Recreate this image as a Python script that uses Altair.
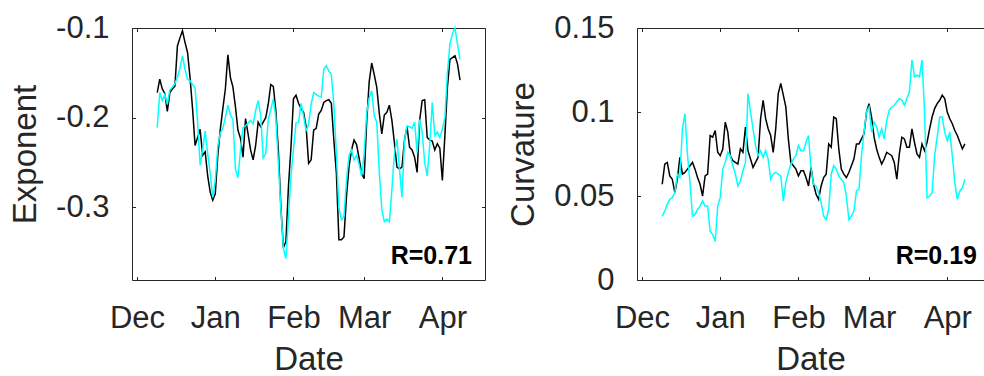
import altair as alt
import pandas as pd

# Daily series, one value per day starting on first_day
first_day = "2018-12-09"

exponent_black = [
    -0.172, -0.157, -0.168, -0.173, -0.193, -0.172, -0.168, -0.165, -0.120, -0.111,
    -0.103, -0.116, -0.127, -0.155, -0.190, -0.231, -0.222, -0.213, -0.242, -0.238,
    -0.265, -0.283, -0.292, -0.285, -0.242, -0.213, -0.190, -0.168, -0.130, -0.155,
    -0.166, -0.188, -0.214, -0.223, -0.244, -0.201, -0.218, -0.236, -0.247, -0.231,
    -0.205, -0.210, -0.205, -0.200, -0.185, -0.163, -0.165, -0.192, -0.236, -0.299,
    -0.345, -0.338, -0.277, -0.233, -0.179, -0.175, -0.184, -0.190, -0.194, -0.210,
    -0.251, -0.247, -0.214, -0.212, -0.196, -0.192, -0.183, -0.181, -0.180, -0.184,
    -0.225, -0.262, -0.336, -0.336, -0.333, -0.288, -0.255, -0.236, -0.225, -0.230,
    -0.245, -0.262, -0.268, -0.205, -0.160, -0.139, -0.152, -0.166, -0.195, -0.218,
    -0.197, -0.194, -0.186, -0.203, -0.228, -0.255, -0.257, -0.255, -0.225, -0.210,
    -0.233, -0.236, -0.244, -0.261, -0.203, -0.181, -0.180, -0.222, -0.225, -0.226,
    -0.236, -0.229, -0.234, -0.270, -0.220, -0.166, -0.135, -0.133, -0.131, -0.140,
    -0.158,
]

exponent_cyan = [
    -0.211, -0.172, -0.181, -0.174, -0.185, -0.169, -0.166, -0.162, -0.155, -0.145,
    -0.131, -0.146, -0.157, -0.159, -0.163, -0.167, -0.205, -0.253, -0.236, -0.215,
    -0.240, -0.262, -0.289, -0.270, -0.232, -0.217, -0.212, -0.200, -0.186, -0.197,
    -0.202, -0.258, -0.267, -0.236, -0.211, -0.209, -0.206, -0.203, -0.207, -0.192,
    -0.181, -0.197, -0.245, -0.240, -0.202, -0.191, -0.179, -0.200, -0.250, -0.302,
    -0.346, -0.357, -0.312, -0.265, -0.235, -0.206, -0.205, -0.184, -0.198, -0.215,
    -0.207, -0.185, -0.172, -0.174, -0.176, -0.177, -0.146, -0.142, -0.148, -0.152,
    -0.185, -0.240, -0.300, -0.314, -0.310, -0.270, -0.242, -0.236, -0.247, -0.242,
    -0.252, -0.265, -0.240, -0.195, -0.178, -0.170, -0.198, -0.205, -0.260, -0.302,
    -0.316, -0.313, -0.316, -0.280, -0.240, -0.224, -0.257, -0.289, -0.225, -0.209,
    -0.210, -0.212, -0.205, -0.239, -0.202, -0.216, -0.250, -0.265, -0.230, -0.183,
    -0.220, -0.216, -0.222, -0.213, -0.200, -0.150, -0.118, -0.106, -0.100, -0.118,
    -0.135,
]

curvature_black = [
    0.057, 0.069, 0.070, 0.062, 0.060, 0.052, 0.060, 0.073, 0.063, 0.064,
    0.066, 0.068, 0.070, 0.066, 0.061, 0.057, 0.050, 0.062, 0.063, 0.086,
    0.085, 0.089, 0.076, 0.074, 0.078, 0.094, 0.088, 0.074, 0.071, 0.070,
    0.069, 0.078, 0.076, 0.091, 0.077, 0.072, 0.067, 0.070, 0.073, 0.096,
    0.107, 0.096, 0.090, 0.086, 0.076, 0.090, 0.111, 0.117, 0.110, 0.103,
    0.084, 0.070, 0.068, 0.066, 0.062, 0.065, 0.065, 0.061, 0.056, 0.067,
    0.057, 0.051, 0.048, 0.056, 0.061, 0.063, 0.081, 0.079, 0.097, 0.096,
    0.078, 0.066, 0.063, 0.061, 0.064, 0.068, 0.072, 0.081, 0.081, 0.084,
    0.087, 0.100, 0.105, 0.097, 0.085, 0.078, 0.073, 0.069, 0.072, 0.076,
    0.075, 0.074, 0.070, 0.060, 0.075, 0.085, 0.084, 0.079, 0.079, 0.090,
    0.082, 0.075, 0.073, 0.081, 0.077, 0.082, 0.090, 0.097, 0.102, 0.105,
    0.107, 0.110, 0.108, 0.100, 0.096, 0.093, 0.089, 0.086, 0.082, 0.078,
    0.081,
]

curvature_cyan = [
    0.038, 0.041, 0.045, 0.048, 0.049, 0.052, 0.063, 0.061, 0.090, 0.099,
    0.075, 0.058, 0.038, 0.039, 0.042, 0.044, 0.047, 0.044, 0.044, 0.029,
    0.027, 0.023, 0.044, 0.049, 0.066, 0.070, 0.076, 0.074, 0.068, 0.063,
    0.056, 0.059, 0.065, 0.070, 0.111, 0.100, 0.090, 0.080, 0.074, 0.077,
    0.073, 0.077, 0.072, 0.060, 0.063, 0.064, 0.063, 0.062, 0.047, 0.058,
    0.064, 0.069, 0.072, 0.074, 0.080, 0.077, 0.077, 0.082, 0.086, 0.066,
    0.057, 0.056, 0.052, 0.046, 0.038, 0.036, 0.042, 0.063, 0.068, 0.066,
    0.062, 0.060, 0.058, 0.050, 0.036, 0.038, 0.041, 0.053, 0.054, 0.074,
    0.088, 0.100, 0.103, 0.088, 0.094, 0.091, 0.085, 0.090, 0.084, 0.095,
    0.101, 0.103, 0.104, 0.106, 0.108, 0.107, 0.104, 0.108, 0.112, 0.131,
    0.121, 0.122, 0.121, 0.131, 0.100, 0.049, 0.050, 0.052, 0.074, 0.085,
    0.097, 0.097, 0.088, 0.083, 0.088, 0.074, 0.058, 0.048, 0.053, 0.055,
    0.060,
]

r_exponent = 0.71
r_curvature = 0.19

month_ticks = [(2018, 12), (2019, 1), (2019, 2), (2019, 3), (2019, 4)]
exponent_ticks = [-0.3, -0.2, -0.1]
curvature_ticks = [0, 0.05, 0.1, 0.15]

AXIS_COLOR = "#262626"
FONT = "Liberation Sans"
TICK_LEN = 3.5
PANEL_H = 252
R_LABEL_X = 340  # right edge of the correlation label, from the panel's left

dates = pd.date_range(first_day, periods=len(exponent_black), freq="D")
tick_dates = [alt.DateTime(year=y, month=m, date=1) for y, m in month_ticks]
x_start = alt.DateTime(year=2018, month=11, date=29)


def label_axis(orient, **kw):
    return alt.Axis(
        orient=orient, grid=False, ticks=False, tickSize=0, domain=True,
        domainColor=AXIS_COLOR, domainWidth=1,
        labelFont=FONT, labelFontSize=31, labelColor=AXIS_COLOR,
        labelFlush=False, labelOverlap=False,
        titleFont=FONT, titleFontSize=33, titleColor=AXIS_COLOR,
        titleFontWeight="normal", **kw,
    )


def frame_axis(orient):
    return alt.Axis(
        orient=orient, grid=False, ticks=False, tickSize=0, labels=False,
        title=None, domain=True, domainColor=AXIS_COLOR, domainWidth=1,
    )


def tick_axis(orient, values):
    # ticks drawn on the inner side of the frame
    return alt.Axis(
        orient=orient, grid=False, values=values, ticks=True,
        tickSize=TICK_LEN, tickColor=AXIS_COLOR, tickWidth=1,
        offset=-TICK_LEN, labels=False, domain=False, title=None,
    )


def panel(black, cyan, y_title, y_domain, y_ticks, y_format, x_end, width,
          r_value, right_frame):
    xs = alt.Scale(domain=[x_start, x_end])
    ys = alt.Scale(domain=y_domain, nice=False, zero=False)
    df_black = pd.DataFrame({"date": dates, "value": black})
    df_cyan = pd.DataFrame({"date": dates, "value": cyan})

    def enc(xa, ya):
        return dict(
            x=alt.X("date:T", scale=xs, axis=xa),
            y=alt.Y("value:Q", scale=ys, axis=ya),
        )

    black_line = alt.Chart(df_black).mark_line(
        color="#000000", strokeWidth=1.5
    ).encode(**enc(
        label_axis("bottom", values=tick_dates, format="%b", title="Date",
                   labelPadding=23, titlePadding=10),
        label_axis("left", values=y_ticks, format=y_format,
                   labelExpr="replace(datum.label, '\u2212', '-')",
                   title=y_title, labelPadding=23, titlePadding=13),
    ))
    cyan_line = alt.Chart(df_cyan).mark_line(
        color="#00FFFF", strokeWidth=1.5
    ).encode(**enc(frame_axis("top"),
                   frame_axis("right") if right_frame else None))
    ticks_a = alt.Chart(df_black).mark_line(strokeOpacity=0).encode(
        **enc(tick_axis("bottom", tick_dates), tick_axis("left", y_ticks)))
    ticks_b = alt.Chart(df_black).mark_line(strokeOpacity=0).encode(
        **enc(tick_axis("top", tick_dates),
              tick_axis("right", y_ticks) if right_frame else None))
    r_label = alt.Chart(
        pd.DataFrame({"label": [f"R={r_value:.2f}"]})
    ).mark_text(
        align="right", baseline="alphabetic", font=FONT, fontSize=25,
        fontWeight="bold", color="#000000",
    ).encode(
        x=alt.value(R_LABEL_X), y=alt.value(PANEL_H - 16), text="label:N"
    )
    return alt.layer(
        black_line, cyan_line, ticks_a, ticks_b, r_label
    ).resolve_axis(x="independent", y="independent").properties(
        width=width, height=PANEL_H
    )


left = panel(
    exponent_black, exponent_cyan, "Exponent", [-0.381, -0.1], exponent_ticks,
    ".1f", alt.DateTime(year=2019, month=4, date=17, hours=21, minutes=36),
    353, r_exponent, True,
)
right = panel(
    curvature_black, curvature_cyan, "Curvature", [0, 0.15], curvature_ticks,
    ".2~g", alt.DateTime(year=2019, month=4, date=15, hours=13, minutes=40),
    347, r_curvature, False,
)

chart = alt.hconcat(left, right, spacing=152, bounds="flush").properties(
    padding={"left": 9, "top": 12, "right": 0, "bottom": 0}
).configure_view(stroke=None)

chart.save("out.html", embed_options={"renderer": "svg", "actions": False})
